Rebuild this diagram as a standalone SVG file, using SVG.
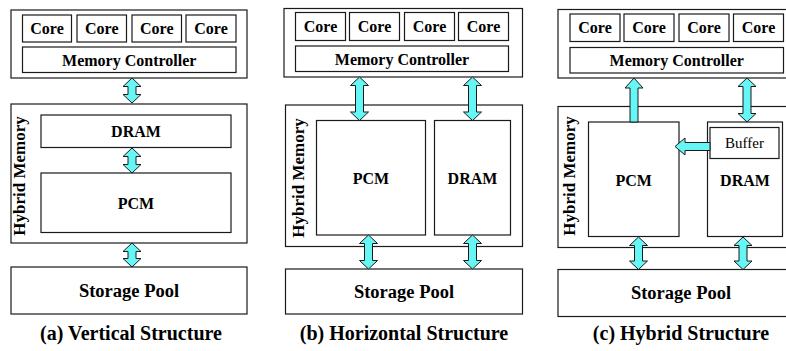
<svg xmlns="http://www.w3.org/2000/svg" width="786" height="351" viewBox="0 0 786 351">
<style>
.box{fill:#fff;stroke:#1a1a1a;stroke-width:1.2}
.t{font-family:'Liberation Serif','Times New Roman',serif;font-weight:bold;font-size:16px;fill:#000;text-anchor:middle}
.sp{font-size:18.5px}
.cap{font-size:20px}
.hm{font-size:17px}
.buf{font-weight:normal;font-size:15px}
.arr{fill:#66f6f6;stroke:#1a1a1a;stroke-width:1}
</style>
<rect width="786" height="351" fill="#fff"/>
<!-- Panel (a) -->
<g id="a-cpu">
<rect class="box" x="11" y="10" width="236" height="68"/>
<rect class="box" x="22.5" y="15" width="49" height="27"/><text class="t" x="47" y="34">Core</text>
<rect class="box" x="77" y="15" width="49.5" height="27"/><text class="t" x="101.75" y="34">Core</text>
<rect class="box" x="132" y="15" width="49.5" height="27"/><text class="t" x="156.75" y="34">Core</text>
<rect class="box" x="186" y="15" width="50" height="27"/><text class="t" x="211" y="34">Core</text>
<rect class="box" x="22.5" y="47" width="213.5" height="25.5"/><text class="t" x="129.25" y="65.5">Memory Controller</text>
</g>
<g id="a-hybrid">
<rect class="box" x="11" y="104" width="236" height="139"/>
<text class="t hm" transform="translate(25 176) rotate(-90)">Hybrid Memory</text>
<rect class="box" x="41" y="115" width="190" height="32.5"/><text class="t" x="136" y="137">DRAM</text>
<rect class="box" x="41" y="173" width="190" height="59.5"/><text class="t" x="136" y="209">PCM</text>
</g>
<g id="a-storage">
<rect class="box" x="11" y="267" width="236" height="47"/><text class="t sp" x="129" y="297">Storage Pool</text>
</g>
<text class="t cap" x="131" y="340">(a) Vertical Structure</text>
<!-- Panel (b) -->
<g id="b-cpu">
<rect class="box" x="284" y="8.5" width="238.5" height="68.5"/>
<rect class="box" x="295.5" y="12.5" width="50" height="28"/><text class="t" x="320.5" y="32">Core</text>
<rect class="box" x="349.5" y="12.5" width="50" height="28"/><text class="t" x="374.5" y="32">Core</text>
<rect class="box" x="404.5" y="12.5" width="50" height="28"/><text class="t" x="429.5" y="32">Core</text>
<rect class="box" x="458.5" y="12.5" width="50" height="28"/><text class="t" x="483.5" y="32">Core</text>
<rect class="box" x="295.5" y="46" width="213" height="25.5"/><text class="t" x="402" y="64.5">Memory Controller</text>
</g>
<g id="b-hybrid">
<rect class="box" x="285.5" y="105" width="237" height="141.5"/>
<text class="t hm" transform="translate(304 178) rotate(-90)">Hybrid Memory</text>
<rect class="box" x="316.5" y="120.5" width="109" height="114.5"/><text class="t" x="371" y="184">PCM</text>
<rect class="box" x="434.5" y="120.5" width="76" height="114.5"/><text class="t" x="472.5" y="184">DRAM</text>
</g>
<g id="b-storage">
<rect class="box" x="285.5" y="269" width="237" height="45"/><text class="t sp" x="404" y="297.5">Storage Pool</text>
</g>
<text class="t cap" x="404" y="340">(b) Horizontal Structure</text>
<!-- Panel (c) -->
<g id="c-cpu">
<rect class="box" x="558" y="9.5" width="240" height="68.5"/>
<rect class="box" x="570" y="14" width="50" height="27.5"/><text class="t" x="595" y="33">Core</text>
<rect class="box" x="624" y="14" width="50" height="27.5"/><text class="t" x="649" y="33">Core</text>
<rect class="box" x="679" y="14" width="50" height="27.5"/><text class="t" x="704" y="33">Core</text>
<rect class="box" x="733.5" y="14" width="50" height="27.5"/><text class="t" x="758.5" y="33">Core</text>
<rect class="box" x="570" y="47.5" width="213.5" height="25.5"/><text class="t" x="676.75" y="66">Memory Controller</text>
</g>
<g id="c-hybrid">
<rect class="box" x="558" y="106.5" width="240" height="141"/>
<text class="t hm" transform="translate(575 176) rotate(-90)">Hybrid Memory</text>
<rect class="box" x="588.5" y="122" width="90.5" height="114.5"/><text class="t" x="633.75" y="186">PCM</text>
<rect class="box" x="707.5" y="122" width="75" height="114.5"/><text class="t" x="745" y="186">DRAM</text>
<rect class="box" x="710" y="127.5" width="69" height="31"/><text class="t buf" x="744.5" y="148">Buffer</text>
</g>
<g id="c-storage">
<rect class="box" x="558" y="269.5" width="240" height="47"/><text class="t sp" x="681" y="299">Storage Pool</text>
</g>
<text class="t cap" x="681" y="340">(c) Hybrid Structure</text>
<!-- Connectors -->
<g id="connectors">
<path class="arr" d="M132,78 L141,86.5 L136,86.5 L136,94.5 L141,94.5 L132,103 L123,94.5 L128,94.5 L128,86.5 L123,86.5 Z"/>
<path class="arr" d="M132,148 L141,156.5 L136,156.5 L136,164.5 L141,164.5 L132,173 L123,164.5 L128,164.5 L128,156.5 L123,156.5 Z"/>
<path class="arr" d="M132,243 L141,251.5 L136,251.5 L136,258.5 L141,258.5 L132,267 L123,258.5 L128,258.5 L128,251.5 L123,251.5 Z"/>
<path class="arr" d="M359.5,77 L368.5,85.5 L363.5,85.5 L363.5,112 L368.5,112 L359.5,120.5 L350.5,112 L355.5,112 L355.5,85.5 L350.5,85.5 Z"/>
<path class="arr" d="M472.5,77 L481.5,85.5 L476.5,85.5 L476.5,112 L481.5,112 L472.5,120.5 L463.5,112 L468.5,112 L468.5,85.5 L463.5,85.5 Z"/>
<path class="arr" d="M368.5,235 L377.5,243.5 L372.5,243.5 L372.5,260.5 L377.5,260.5 L368.5,269 L359.5,260.5 L364.5,260.5 L364.5,243.5 L359.5,243.5 Z"/>
<path class="arr" d="M472.5,235 L481.5,243.5 L476.5,243.5 L476.5,260.5 L481.5,260.5 L472.5,269 L463.5,260.5 L468.5,260.5 L468.5,243.5 L463.5,243.5 Z"/>
<path class="arr" d="M634,78 L643,88 L638,88 L638,122 L630,122 L630,88 L625,88 Z"/>
<path class="arr" d="M747,78 L756,86.5 L751,86.5 L751,113.5 L756,113.5 L747,122 L738,113.5 L743,113.5 L743,86.5 L738,86.5 Z"/>
<path class="arr" d="M638.5,237 L647.5,245.5 L642.5,245.5 L642.5,261 L647.5,261 L638.5,269.5 L629.5,261 L634.5,261 L634.5,245.5 L629.5,245.5 Z"/>
<path class="arr" d="M743,237 L752,245.5 L747,245.5 L747,261 L752,261 L743,269.5 L734,261 L739,261 L739,245.5 L734,245.5 Z"/>
<path class="arr" d="M675,146.5 L685,138 L685,142.5 L710,142.5 L710,150.5 L685,150.5 L685,155 Z"/>
</g>
</svg>
